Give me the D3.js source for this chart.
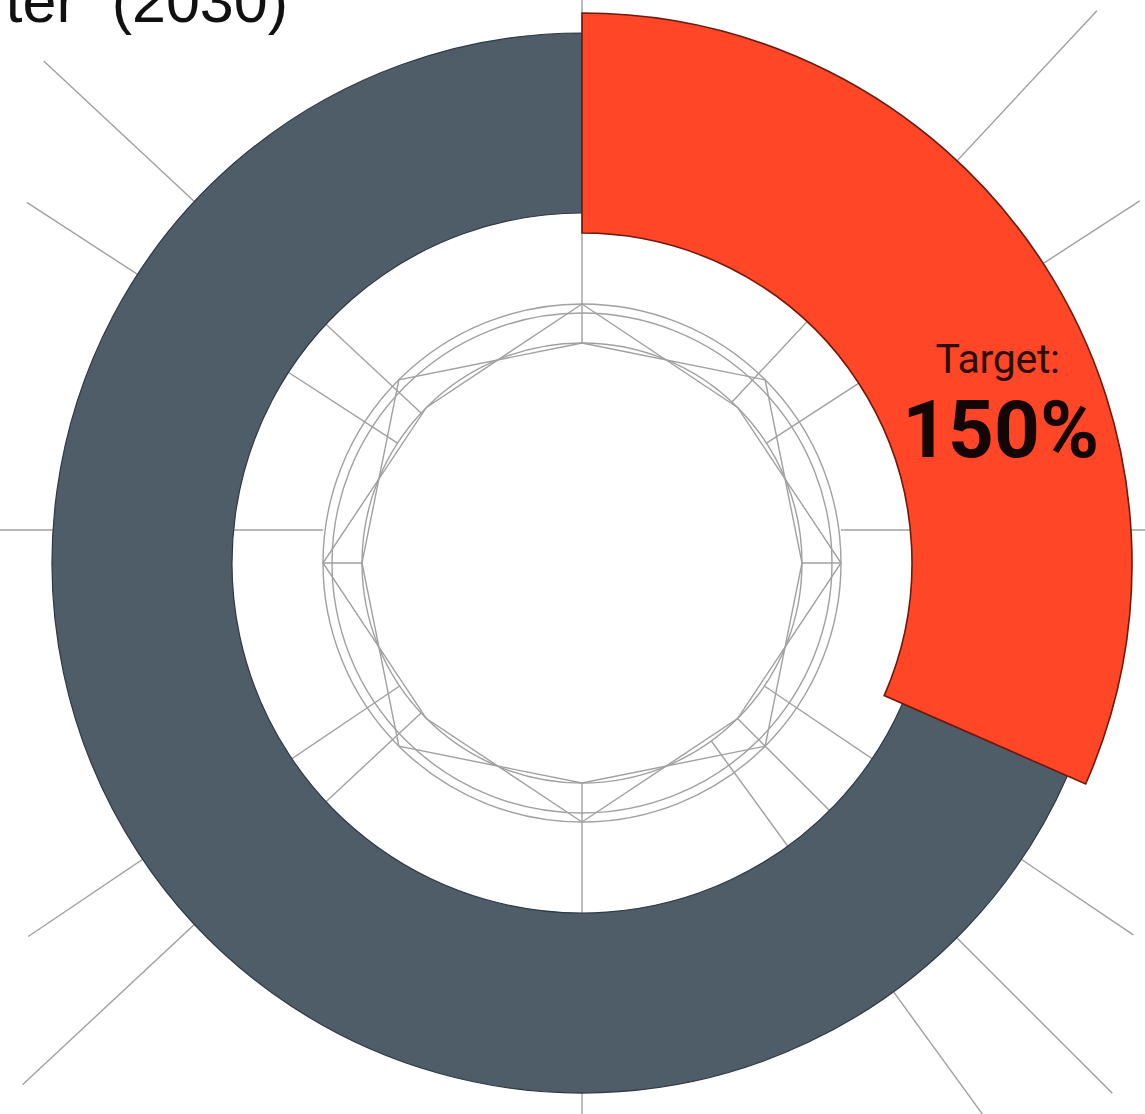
<!DOCTYPE html>
<html>
<head>
<meta charset="utf-8">
<script src="https://cdn.jsdelivr.net/npm/d3@7"></script>
<style>
  html, body { margin: 0; padding: 0; background: #ffffff; }
  svg { display: block; }
</style>
</head>
<body>
<svg id="chart" width="1145" height="1114"></svg>
<script>
// ---- data ----
const categories = ["Target", "Remaining"];
const values = [150, 325];
const labelTitle = "Target:";
const labelValue = "150%";
const titleText = "Quarter (2030)";

// grid spokes (degrees, clockwise from top) and their outer reach
const spokeAngles = [0, 43, 57, 90, 124, 135, 144, 180, 227, 236, 270, 303, 313];
const spokeReach  = [800, 755, 665, 800, 665, 750, 700, 800, 765, 668, 800, 662, 736];
const ringRadii = [220, 250, 259];

// ---- layout ----
const W = 1145, H = 1114;
const cx = 582, cy = 563;
const svg = d3.select("#chart");
const g = svg.append("g").attr("transform", `translate(${cx},${cy})`);
const gridColor = "#a0a0a0";
const gridWidth = 1.4;

// title (cropped at top-left like the reference)
svg.append("text")
  .attr("x", 288).attr("y", 22)
  .attr("text-anchor", "end")
  .attr("font-family", "Liberation Sans, Arial, sans-serif")
  .attr("font-size", 61)
  .attr("word-spacing", 18)
  .attr("fill", "#111")
  .text(titleText);

// ---- polar grid ----
const grid = g.append("g");
const rOut = 259, rIn = 220;
spokeAngles.forEach((a, i) => {
  const rad = a * Math.PI / 180;
  const horizontal = (a === 90 || a === 270);
  // horizontal spokes are drawn slightly higher beyond the outer ring, as in the reference
  const segs = horizontal ? [[rIn, rOut, 0], [rOut, spokeReach[i], -33]] : [[rIn, spokeReach[i], 0]];
  segs.forEach(([r0, r1, dy]) => {
    const p0 = d3.pointRadial(rad, r0), p1 = d3.pointRadial(rad, r1);
    grid.append("line")
      .attr("x1", p0[0]).attr("y1", p0[1] + dy)
      .attr("x2", p1[0]).attr("y2", p1[1] + dy)
      .attr("stroke", gridColor).attr("stroke-width", gridWidth);
  });
});
ringRadii.forEach(r => {
  grid.append("circle").attr("r", r)
    .attr("fill", "none").attr("stroke", gridColor).attr("stroke-width", gridWidth);
});
// two star polygons alternating between outer and inner ring
const polyA = d3.range(8).map(i => d3.pointRadial(i * Math.PI / 4, i % 2 === 0 ? rOut : rIn));
const polyB = d3.range(8).map(i => d3.pointRadial(i * Math.PI / 4, i % 2 === 0 ? rIn : rOut));
const lineGen = d3.line().curve(d3.curveLinearClosed);
[polyA, polyB].forEach(p => {
  grid.append("path").attr("d", lineGen(p))
    .attr("fill", "none").attr("stroke", gridColor).attr("stroke-width", gridWidth);
});

// ---- donut ----
const pie = d3.pie().sort(null).value(d => d.v).startAngle(0).endAngle(2 * Math.PI);
const arcs = pie(categories.map((c, i) => ({ c, v: values[i] })));
const fills = ["#ff4627", "#4f5d69"];
const strokes = ["#6e1a0c", "#2e3943"];
const radii = [[330, 550], [350, 530]];

// draw gray first, red on top
[1, 0].forEach(i => {
  const arc = d3.arc().innerRadius(radii[i][0]).outerRadius(radii[i][1]);
  g.append("path")
    .attr("d", arc(arcs[i]))
    .attr("fill", fills[i])
    .attr("stroke", strokes[i])
    .attr("stroke-width", i === 0 ? 1.6 : 1.2)
    .attr("stroke-linejoin", "miter");
});

// ---- label ----
const a0 = arcs[0];
const la = a0.startAngle + (a0.endAngle - a0.startAngle) * 0.605;
const lp = d3.pointRadial(la, 448);
const lab = g.append("g").attr("transform", `translate(${lp[0]},${lp[1]})`);
lab.append("text")
  .attr("x", -2).attr("y", -28)
  .attr("text-anchor", "middle")
  .attr("font-family", "Roboto, sans-serif")
  .attr("font-size", 41)
  .attr("fill", "#2a0f08")
  .attr("letter-spacing", -0.3)
  .text(labelTitle);
lab.append("text")
  .attr("x", 1).attr("y", 56)
  .attr("text-anchor", "middle")
  .attr("font-family", "Roboto, sans-serif")
  .attr("font-weight", "bold")
  .attr("font-size", 80)
  .attr("fill", "#140604")
  .text(labelValue);
</script>
</body>
</html>
